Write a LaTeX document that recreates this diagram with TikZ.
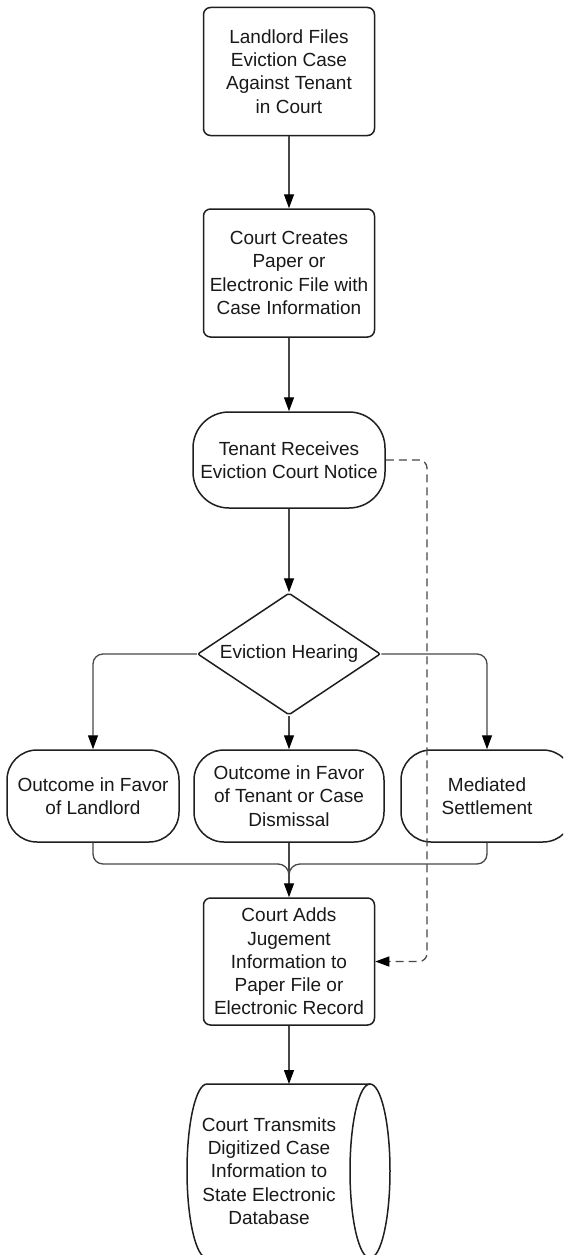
\documentclass[tikz,border=0pt]{standalone}
\usepackage{fontspec}
\setmainfont{Liberation Sans}
\usetikzlibrary{arrows.meta,shapes.geometric,calc}
\begin{document}
\begin{tikzpicture}[x=1pt,y=-1pt,
  every node/.style={font=\fontsize{19}{23.3}\selectfont, align=center, text=black!90},
  shp/.style={draw=black!88, line width=1.5pt, fill=white},
  boxnode/.style={shp, rectangle, rounded corners=7pt, minimum width=171pt, minimum height=128pt, inner sep=0pt},
  stad/.style={shp, rectangle, rounded corners=30pt, minimum height=92pt, inner sep=0pt},
  dia/.style={shp, diamond, minimum width=183pt, minimum height=122pt, aspect=1.5, inner sep=0pt, rounded corners=2pt},
  conn/.style={draw=black!72, line width=1.3pt},
  arr/.style={conn, -{Triangle[width=10pt,length=14pt,color=black]}},
  dsh/.style={dash pattern=on 8pt off 5pt},
]
\path[use as bounding box] (0,0) rectangle (563,1255);
\clip (0,0) rectangle (563,1255);

\node[boxnode] (b1) at (289,71.5) {Landlord Files\\Eviction Case\\Against Tenant\\in Court};
\node[boxnode] (b2) at (289,273) {Court Creates\\Paper or\\Electronic File with\\Case Information};
\node[stad, rounded corners=36pt, minimum width=192pt, minimum height=96pt] (s3) at (289,460) {Tenant Receives\\Eviction Court Notice};
\node[dia] (d) at (289,654) {Eviction Hearing};
\node[stad, minimum width=172pt] (L) at (93,796) {Outcome in Favor\\of Landlord};
\node[stad, minimum width=190pt] (M) at (289,796) {Outcome in Favor\\of Tenant or Case\\Dismissal};
\node[stad, minimum width=172pt] (R) at (487,796) {Mediated\\Settlement};
\node[boxnode, minimum height=127pt] (b4) at (289,961.5) {Court Adds\\Jugement\\Information to\\Paper File or\\Electronic Record};

% cylinder
\draw[shp] (370,1084) -- (207,1084) arc[start angle=90, end angle=270, x radius=20pt, y radius=87pt] -- (370,1258);
\draw[shp] (370,1171) ellipse [x radius=20pt, y radius=87pt];
\node (cyl) at (269,1171) {Court Transmits\\Digitized Case\\Information to\\State Electronic\\Database};
\coordinate (cyltop) at (289,1084);

% connectors
\draw[arr] (b1.south) -- (b2.north);
\draw[arr] (b2.south) -- (s3.north);
\draw[arr] (s3.south) -- (d.north);
\draw[arr, rounded corners=10pt] (d.west) -| (L.north);
\draw[arr, rounded corners=10pt] (d.east) -| (R.north);
\draw[arr] (d.south) -- (M.north);

\coordinate (m) at (289,875);
\draw[conn, rounded corners=10pt] (L.south) |- ($(m)+(-11,-11)$);
\draw[conn] ($(m)+(-11,-11)$) to[out=0,in=90] (m);
\draw[conn, rounded corners=10pt] (R.south) |- ($(m)+(11,-11)$);
\draw[conn] ($(m)+(11,-11)$) to[out=180,in=90] (m);
\draw[arr] (M.south) -- (b4.north);
\draw[arr] (b4.south) -- (cyltop);

\coordinate (dc) at (427,961.5);
\draw[arr, dsh, rounded corners=8pt] (s3.east) -| (dc) -- (b4.east);
\end{tikzpicture}
\end{document}
